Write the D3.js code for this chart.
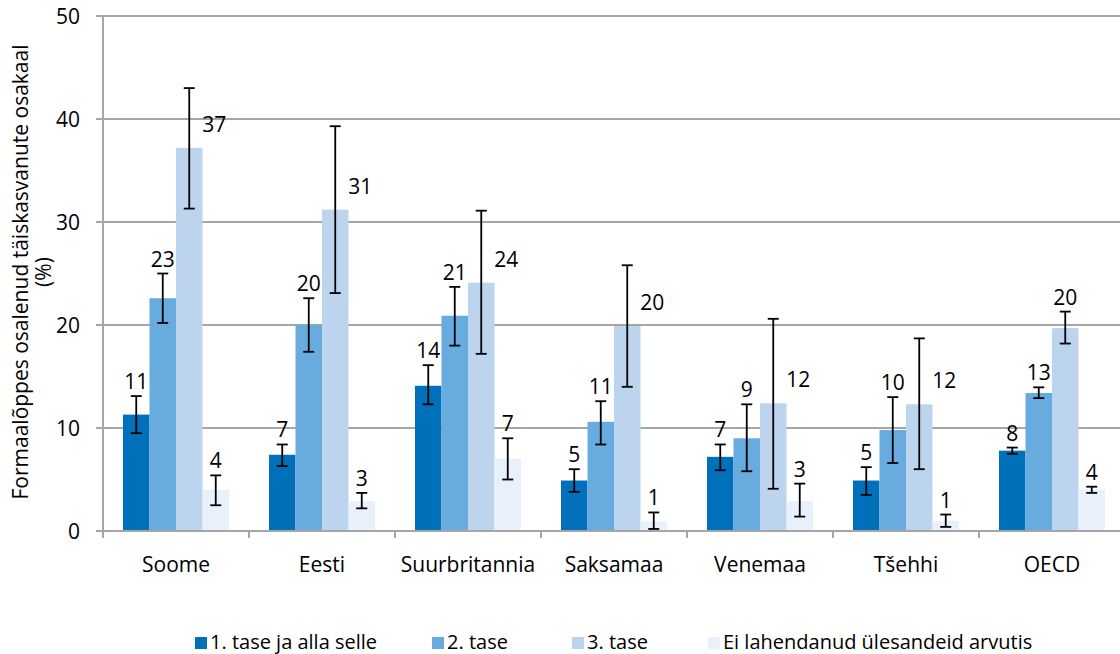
<!DOCTYPE html>
<html>
<head>
<meta charset="utf-8">
<script src="https://cdn.jsdelivr.net/npm/d3@7"></script>
<style>
  html, body { margin: 0; padding: 0; background: #fff; }
  svg { display: block; font-family: "Open Sans", sans-serif; }
</style>
</head>
<body>
<svg id="chart" width="1120" height="654"></svg>
<script>
// ---- data ----
const categories = ["Soome", "Eesti", "Suurbritannia", "Saksamaa", "Venemaa", "Tšehhi", "OECD"];
const seriesNames = ["1. tase ja alla selle", "2. tase", "3. tase", "Ei lahendanud ülesandeid arvutis"];
const seriesColors = ["#0070BB", "#68ABDF", "#BDD4EF", "#E8F1FB"];

const level1   = [11.3, 7.4, 14.1, 4.9, 7.2, 4.9, 7.8];
const level1Lo = [9.5, 6.3, 12.3, 3.8, 5.9, 3.5, 7.5];
const level1Hi = [13.1, 8.4, 16.1, 6.0, 8.4, 6.2, 8.1];

const level2   = [22.6, 20.0, 20.9, 10.6, 9.0, 9.8, 13.4];
const level2Lo = [20.2, 17.4, 18.0, 8.4, 5.8, 6.6, 12.9];
const level2Hi = [25.0, 22.6, 23.7, 12.6, 12.3, 13.0, 13.95];

const level3   = [37.2, 31.2, 24.1, 19.9, 12.4, 12.3, 19.7];
const level3Lo = [31.3, 23.1, 17.2, 14.0, 4.1, 6.0, 18.2];
const level3Hi = [43.0, 39.3, 31.1, 25.8, 20.6, 18.7, 21.3];

const noComp   = [4.0, 2.9, 7.0, 0.94, 2.9, 0.97, 4.0];
const noCompLo = [2.5, 2.2, 5.0, 0.2, 1.4, 0.4, 3.7];
const noCompHi = [5.4, 3.7, 9.0, 1.8, 4.6, 1.6, 4.3];

const yTicks = [0, 10, 20, 30, 40, 50];
const yTitle = ["Formaalõppes osalenud täiskasvanute osakaal", "(%)"];

// ---- build table ----
const values = [level1, level2, level3, noComp];
const lows = [level1Lo, level2Lo, level3Lo, noCompLo];
const highs = [level1Hi, level2Hi, level3Hi, noCompHi];
const rows = [];
categories.forEach((c, ci) => {
  seriesNames.forEach((s, si) => {
    rows.push({ cat: c, ser: s, si, v: values[si][ci], lo: lows[si][ci], hi: highs[si][ci] });
  });
});

// ---- layout ----
const W = 1120, H = 654;
const plotLeft = 103, plotTop = 16, plotBottom = 531;
const svg = d3.select("#chart");
svg.append("rect").attr("width", W).attr("height", H).attr("fill", "#fff");

const x0 = d3.scaleBand().domain(categories).range([plotLeft, plotLeft + 146 * categories.length]);
const x1 = d3.scaleBand().domain(seriesNames).range([20, 126]);
const y = d3.scaleLinear().domain([0, 50]).range([plotBottom, plotTop]);
const color = d3.scaleOrdinal().domain(seriesNames).range(seriesColors);

const gridColor = "#A6A6A6";

// gridlines (with left tick marks)
svg.append("g").selectAll("line").data(yTicks).join("line")
  .attr("x1", 96).attr("x2", W)
  .attr("y1", d => y(d)).attr("y2", d => y(d))
  .attr("stroke", gridColor).attr("stroke-width", 2);

// y tick labels
svg.append("g").selectAll("text").data(yTicks).join("text")
  .attr("x", 80).attr("y", d => y(d) + 8)
  .attr("text-anchor", "end")
  .attr("font-size", 21).attr("fill", "#000")
  .text(d => d);

// bars
const groups = svg.append("g").selectAll("g").data(categories).join("g")
  .attr("transform", d => `translate(${x0(d)},0)`);

groups.selectAll("rect").data(c => rows.filter(r => r.cat === c)).join("rect")
  .attr("x", d => x1(d.ser))
  .attr("y", d => y(d.v))
  .attr("width", x1.bandwidth())
  .attr("height", d => y(0) - y(d.v))
  .attr("fill", d => color(d.ser));

// error bars
const cap = 5.5;
const eb = groups.selectAll("g.err").data(c => rows.filter(r => r.cat === c)).join("g").attr("class", "err");
eb.append("line")
  .attr("x1", d => x1(d.ser) + x1.bandwidth() / 2).attr("x2", d => x1(d.ser) + x1.bandwidth() / 2)
  .attr("y1", d => y(d.lo)).attr("y2", d => y(d.hi))
  .attr("stroke", "#000").attr("stroke-width", 1.8);
eb.append("line")
  .attr("x1", d => x1(d.ser) + x1.bandwidth() / 2 - cap).attr("x2", d => x1(d.ser) + x1.bandwidth() / 2 + cap)
  .attr("y1", d => y(d.hi)).attr("y2", d => y(d.hi))
  .attr("stroke", "#000").attr("stroke-width", 1.8);
eb.append("line")
  .attr("x1", d => x1(d.ser) + x1.bandwidth() / 2 - cap).attr("x2", d => x1(d.ser) + x1.bandwidth() / 2 + cap)
  .attr("y1", d => y(d.lo)).attr("y2", d => y(d.lo))
  .attr("stroke", "#000").attr("stroke-width", 1.8);

// value labels: above the error bar, or beside it when the upper error is long
groups.selectAll("text.val").data(c => rows.filter(r => r.cat === c)).join("text")
  .attr("class", "val")
  .attr("text-anchor", "middle")
  .attr("font-size", 21).attr("fill", "#000")
  .attr("x", d => x1(d.ser) + x1.bandwidth() / 2 + ((d.hi - d.v) > 4 ? 25 : 0))
  .attr("y", d => (d.hi - d.v) > 4 ? y(d.v) - 16 : y(d.hi) - 7)
  .text(d => Math.round(d.v));

// axes lines
svg.append("line").attr("x1", plotLeft).attr("x2", plotLeft).attr("y1", plotTop).attr("y2", plotBottom + 7)
  .attr("stroke", gridColor).attr("stroke-width", 2);
svg.append("line").attr("x1", plotLeft).attr("x2", W).attr("y1", plotBottom).attr("y2", plotBottom)
  .attr("stroke", gridColor).attr("stroke-width", 2);
svg.append("g").selectAll("line").data(categories.slice(1)).join("line")
  .attr("x1", d => x0(d)).attr("x2", d => x0(d))
  .attr("y1", plotBottom).attr("y2", plotBottom + 7)
  .attr("stroke", gridColor).attr("stroke-width", 2);

// category labels
svg.append("g").selectAll("text").data(categories).join("text")
  .attr("x", d => x0(d) + x0.bandwidth() / 2)
  .attr("y", 572)
  .attr("text-anchor", "middle")
  .attr("font-size", 21).attr("fill", "#000")
  .text(d => d);

// y axis title
const yt = svg.append("text")
  .attr("transform", "translate(0,272) rotate(-90)")
  .attr("text-anchor", "middle")
  .attr("font-size", 21).attr("fill", "#000");
yt.append("tspan").attr("x", 0).attr("y", 28).text(yTitle[0]);
yt.append("tspan").attr("x", 0).attr("y", 51).text(yTitle[1]);

// legend
const legendX = d3.scaleOrdinal().domain(seriesNames).range([195, 432, 572, 708]);
const legend = svg.append("g").selectAll("g").data(seriesNames).join("g")
  .attr("transform", d => `translate(${legendX(d)},0)`);
legend.append("rect").attr("x", 0).attr("y", 637).attr("width", 12).attr("height", 12)
  .attr("fill", d => color(d));
legend.append("text").attr("x", 15).attr("y", 649)
  .attr("font-size", 20).attr("fill", "#000").text(d => d);
</script>
</body>
</html>
